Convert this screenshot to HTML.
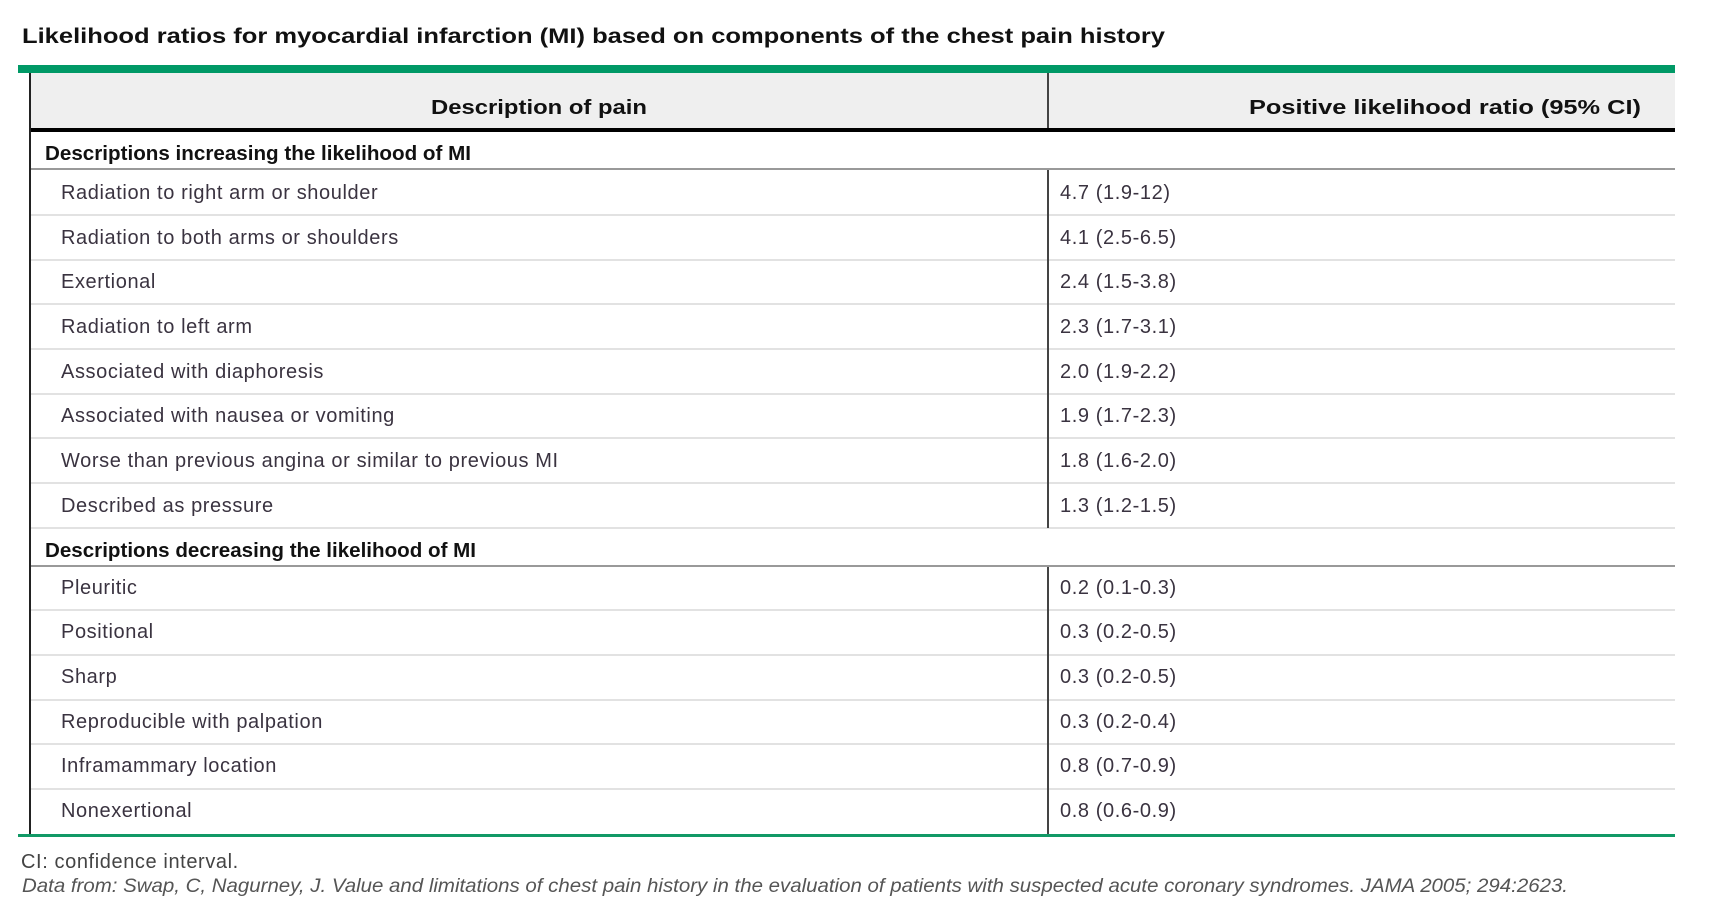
<!DOCTYPE html>
<html><head><meta charset="utf-8"><style>
html,body{margin:0;padding:0;background:#fff;}
svg{display:block;}
text{font-family:"Liberation Sans",sans-serif;}
.t{font-size:20px;letter-spacing:0.6px;fill:#3a3340;}
.b{font-size:20px;font-weight:bold;fill:#111;}
</style></head><body>
<svg width="1711" height="914" viewBox="0 0 1711 914" xmlns="http://www.w3.org/2000/svg">
<text x="22" y="43" style="font-size:21px;font-weight:bold;fill:#111" textLength="1143" lengthAdjust="spacingAndGlyphs">Likelihood ratios for myocardial infarction (MI) based on components of the chest pain history</text>
<rect x="18" y="65" width="1657" height="8" fill="#009966"/>
<rect x="30" y="73" width="1645" height="55" fill="#efefef"/>
<rect x="30" y="128" width="1645" height="4" fill="#000"/>
<text x="431" y="114" class="b" textLength="216" lengthAdjust="spacingAndGlyphs">Description of pain</text>
<text x="1249" y="114" class="b" textLength="392" lengthAdjust="spacingAndGlyphs">Positive likelihood ratio (95% CI)</text>
<rect x="1047" y="73" width="2" height="55" fill="#444"/>
<rect x="29" y="73" width="2" height="763" fill="#222"/>
<text x="45" y="160" class="b" textLength="426" lengthAdjust="spacingAndGlyphs">Descriptions increasing the likelihood of MI</text>
<rect x="31" y="168" width="1644" height="2" fill="#999"/>
<g fill="#e2e2e2">
<rect x="31" y="214" width="1644" height="2"/><rect x="31" y="259" width="1644" height="2"/>
<rect x="31" y="303" width="1644" height="2"/><rect x="31" y="348" width="1644" height="2"/>
<rect x="31" y="393" width="1644" height="2"/><rect x="31" y="437" width="1644" height="2"/>
<rect x="31" y="482" width="1644" height="2"/><rect x="31" y="527" width="1644" height="2"/>
<rect x="31" y="609" width="1644" height="2"/><rect x="31" y="654" width="1644" height="2"/>
<rect x="31" y="699" width="1644" height="2"/><rect x="31" y="743" width="1644" height="2"/>
<rect x="31" y="788" width="1644" height="2"/>
</g>
<rect x="1047" y="170" width="2" height="358" fill="#444"/>
<rect x="1047" y="567" width="2" height="268" fill="#444"/>
<g>
<text x="61" y="199" class="t">Radiation to right arm or shoulder</text><text x="1060" y="199" class="t">4.7 (1.9-12)</text>
<text x="61" y="244" class="t">Radiation to both arms or shoulders</text><text x="1060" y="244" class="t">4.1 (2.5-6.5)</text>
<text x="61" y="288" class="t">Exertional</text><text x="1060" y="288" class="t">2.4 (1.5-3.8)</text>
<text x="61" y="333" class="t">Radiation to left arm</text><text x="1060" y="333" class="t">2.3 (1.7-3.1)</text>
<text x="61" y="378" class="t">Associated with diaphoresis</text><text x="1060" y="378" class="t">2.0 (1.9-2.2)</text>
<text x="61" y="422" class="t">Associated with nausea or vomiting</text><text x="1060" y="422" class="t">1.9 (1.7-2.3)</text>
<text x="61" y="467" class="t">Worse than previous angina or similar to previous MI</text><text x="1060" y="467" class="t">1.8 (1.6-2.0)</text>
<text x="61" y="512" class="t">Described as pressure</text><text x="1060" y="512" class="t">1.3 (1.2-1.5)</text>
</g>
<text x="45" y="557" class="b" textLength="431" lengthAdjust="spacingAndGlyphs">Descriptions decreasing the likelihood of MI</text>
<rect x="31" y="565" width="1644" height="2" fill="#999"/>
<g>
<text x="61" y="594" class="t">Pleuritic</text><text x="1060" y="594" class="t">0.2 (0.1-0.3)</text>
<text x="61" y="638" class="t">Positional</text><text x="1060" y="638" class="t">0.3 (0.2-0.5)</text>
<text x="61" y="683" class="t">Sharp</text><text x="1060" y="683" class="t">0.3 (0.2-0.5)</text>
<text x="61" y="728" class="t">Reproducible with palpation</text><text x="1060" y="728" class="t">0.3 (0.2-0.4)</text>
<text x="61" y="772" class="t">Inframammary location</text><text x="1060" y="772" class="t">0.8 (0.7-0.9)</text>
<text x="61" y="817" class="t">Nonexertional</text><text x="1060" y="817" class="t">0.8 (0.6-0.9)</text>
</g>
<rect x="18" y="834" width="1657" height="3" fill="#119966"/>
<text x="21" y="868" style="font-size:20px;letter-spacing:0.6px;fill:#444">CI: confidence interval.</text>
<text x="22" y="892" style="font-size:19px;font-style:italic;fill:#555" textLength="1546" lengthAdjust="spacingAndGlyphs">Data from: Swap, C, Nagurney, J. Value and limitations of chest pain history in the evaluation of patients with suspected acute coronary syndromes. JAMA 2005; 294:2623.</text>
</svg>
</body></html>
